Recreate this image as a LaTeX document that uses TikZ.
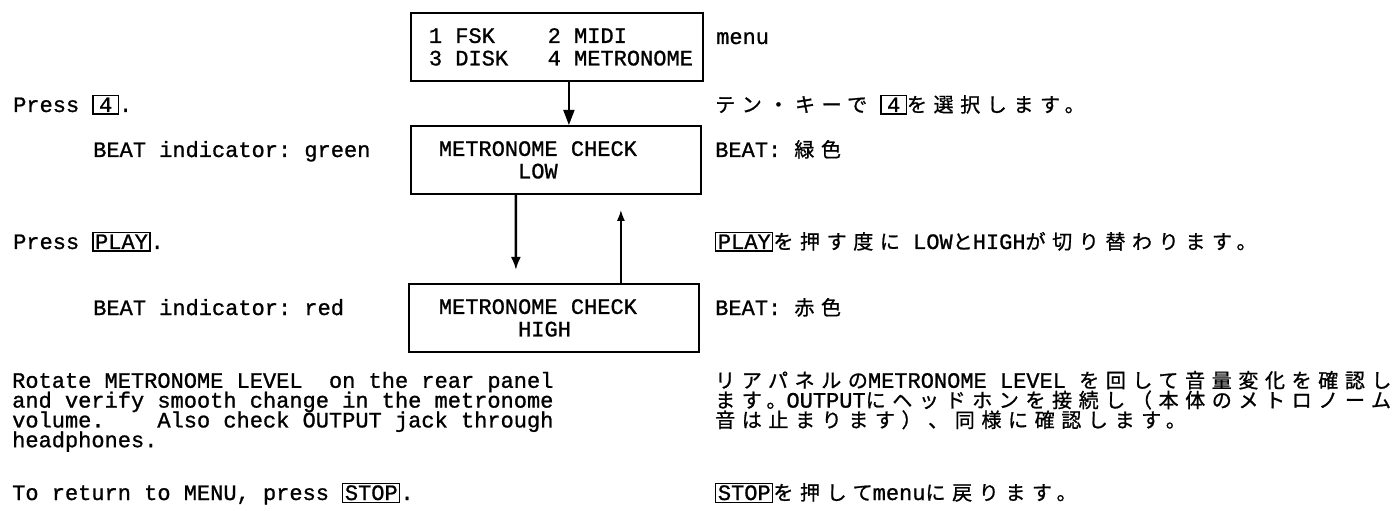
\documentclass[tikz,border=0pt]{standalone}
\usepackage{fontspec}
\setmainfont{Liberation Mono}[FakeBold=1]
\newfontfamily\jpfont{Noto Sans CJK JP}[Scale=0.91,LetterSpace=33,FakeBold=1]
\usetikzlibrary{arrows.meta}
\newcommand\ja[1]{{\jpfont #1}}
\newcommand\keycap[1]{{\setlength\fboxsep{1.5bp}\setlength\fboxrule{1.2bp}\fbox{#1}}}
\newcommand\lcd[2]{\makebox[#1][l]{#2}}
\tikzset{
  scrbox/.style = {draw, line width=1.8bp, anchor=north west, align=left,
                   inner ysep=0pt, minimum height=68bp},
  txt/.style    = {anchor=base west, inner sep=0pt},
  link/.style   = {line width=1.8bp},
}
\begin{document}
\begin{tikzpicture}[x=1bp,y=-1bp,font=\frenchspacing\fontsize{22bp}{22.5bp}\selectfont]
  \useasboundingbox (0,0) rectangle (1395,511);
  % screens
  \node[scrbox, inner xsep=18bp] (menu) at (410,12)
      {\lcd{256bp}{1 FSK~~~~2 MIDI}\\\lcd{256bp}{3 DISK~~~4 METRONOME}};
  \node[scrbox, inner xsep=28bp] (low) at (410,125)
      {\lcd{234bp}{METRONOME CHECK}\\\lcd{234bp}{~~~~~~LOW}};
  \node[scrbox, inner xsep=30bp] (high) at (408,283)
      {\lcd{230bp}{METRONOME CHECK}\\\lcd{230bp}{~~~~~~HIGH}};
  \draw[link, -{Triangle[length=15bp,width=11bp]}]
      ([xshift=12bp]menu.south) -- ([xshift=13bp]low.north);
  \draw[link, line width=2.4bp, -{Latex[length=13bp,width=10bp]}, shorten >=13bp]
      ([xshift=-40bp]low.south) -- ([xshift=-38bp]high.north);
  \draw[link, -{Latex[length=11bp,width=8bp]}, shorten >=15bp]
      ([xshift=67bp]high.north) -- ([xshift=65bp]low.south);
  % english column
  \node[txt] (press4) at (13,112) {Press \keycap{\hspace{4bp}4\hspace{4bp}}.};
  \node[txt] (beatg) at (93,157) {BEAT indicator: green};
  \node[txt] (pressplay) at (13,249) {Press \keycap{PLAY}.};
  \node[txt] (beatr) at (93,315) {BEAT indicator: red};
  \foreach \t [count=\i] in {{Rotate METRONOME LEVEL~~on the rear panel},
      {and verify smooth change in the metronome},
      {volume.~~~~Also check OUTPUT jack through},{headphones.}}
    \node[txt] (lp\i) at (12,368+19.8*\i) {\t};
  \node[txt] (stop) at (12,500) {To return to MENU, press \keycap{STOP}.};
  % japanese column
  \node[txt] (menulbl) at (716,44) {menu};
  \node[txt] (press4ja) at (715,112)
      {\ja{テン・キーで}~\keycap{\hspace{4bp}4\hspace{4bp}}\ja{を選択します。}};
  \node[txt] (beatgja) at (715,157) {BEAT: \ja{緑色}};
  \node[txt] (pressplayja) at (715,249)
      {\keycap{PLAY}\ja{を押す度に}~LOW\ja{と}HIGH\ja{が切り替わります。}};
  \node[txt] (beatrja) at (715,315) {BEAT: \ja{赤色}};
  \foreach \t [count=\i] in {{\ja{リアパネルの}METRONOME LEVEL \ja{を回して音量変化を確認し}},
      {\ja{ます。}OUTPUT\ja{にヘッドホンを接続し（本体のメトロノーム}},
      {\ja{音は止まります）、同様に確認します。}}}
    \node[txt] (rp\i) at (715,368+19.8*\i) {\t};
  \node[txt] (stopja) at (715,500) {\keycap{STOP}\ja{を押して}menu\ja{に戻ります。}};
\end{tikzpicture}
\end{document}
